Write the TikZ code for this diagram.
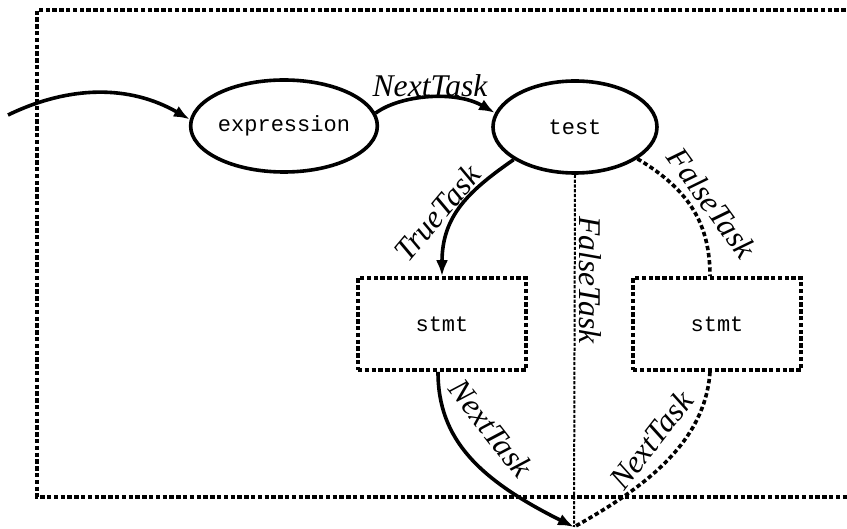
\documentclass[tikz,border=0pt]{standalone}
\usepackage{fontspec}
\setmainfont{Liberation Serif}
\setmonofont{Liberation Mono}
\usetikzlibrary{shapes.geometric,arrows.meta,calc}

\tikzset{
  task/.style={draw, ellipse, line width=1.8pt, inner sep=0pt,
    minimum width=82pt, minimum height=46pt,
    font=\ttfamily\fontsize{11}{13}\selectfont},
  stmtbox/.style={draw, rectangle, line width=1.8pt, dash pattern=on 2.2pt off 1.2pt,
    inner sep=0pt, minimum width=84pt, minimum height=46pt,
    font=\ttfamily\fontsize{11}{13}\selectfont},
  edge/.style={line width=1.8pt},
  arrowedge/.style={edge, -{Latex[length=8pt,width=6pt]}},
  dotedge/.style={line width=1.8pt, dash pattern=on 2.2pt off 1.4pt},
  thinedge/.style={line width=1pt, dash pattern=on 1.6pt off 0.8pt},
  border/.style={line width=1.8pt, dash pattern=on 2.2pt off 1.2pt},
  lbl/.style={font=\itshape\fontsize{15.8}{18}\selectfont, inner sep=0pt}
}

\begin{document}
\begin{tikzpicture}[x=0.5pt, y=-0.5pt]
  \useasboundingbox (0,0) rectangle (847,529);
  \clip (0,0) rectangle (847,529);

  % enclosing region, open to the right
  \draw[border] (900,10) -- (37,10) -- (37,497) -- (900,497);

  % nodes
  \node[task] (expr) at (284,126) {expression};
  \node[task] (test) at (575,127) {test};
  \node[stmtbox] (lstmt) at (442,324) {stmt};
  \node[stmtbox] (rstmt) at (717,324) {stmt};
  \coordinate (src) at (8,115);
  \coordinate (join) at (574,527);

  % incoming control flow
  \draw[arrowedge] (src) .. controls (70,85) and (130,85) .. (expr.176);

  % expression -> test
  \draw[arrowedge] (expr.8) .. controls (400,95) and (455,90) .. (test.170);
  \node[lbl] (nextA) at (430,86) {NextTask};

  % test -> true branch
  \draw[arrowedge] (test.208) .. controls (470,190) and (442,215) .. (lstmt.north);
  \node[lbl, rotate=50] (trueA) at (437,213) {TrueTask};

  % test -> false exit (direct)
  \draw[thinedge] (test.south) -- (join);
  \node[lbl, rotate=-90] (falseA) at (590,280) {FalseTask};

  % test -> false branch
  \draw[dotedge] (test.333) .. controls (690,190) and (710,225) .. ($(rstmt.north)+(-7,0)$);
  \node[lbl, rotate=-54] (falseB) at (712,203) {FalseTask};

  % true branch -> join
  \draw[arrowedge] ($(lstmt.south)+(-4,0)$) .. controls (438,440) and (480,480) .. (join);
  \node[lbl, rotate=-52] (nextB) at (491,428) {NextTask};

  % false branch -> join
  \draw[dotedge] ($(rstmt.south)+(-7,0)$) .. controls (705,445) and (640,490) .. (join);
  \node[lbl, rotate=52] (nextC) at (651,440) {NextTask};
\end{tikzpicture}
\end{document}
